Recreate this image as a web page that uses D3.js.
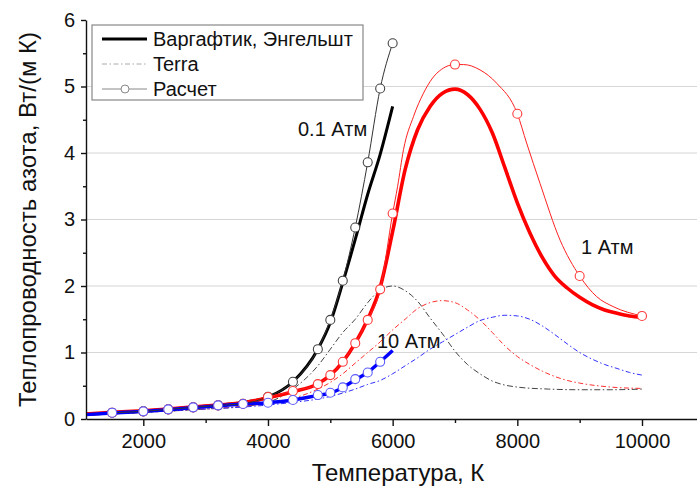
<!DOCTYPE html>
<html>
<head>
<meta charset="utf-8">
<script src="https://cdn.jsdelivr.net/npm/d3@7"></script>
<style>
body{margin:0;background:#fff;}
text{font-family:Arial,"Liberation Sans",sans-serif;fill:#111;}
</style>
</head>
<body>
<svg id="chart" width="697" height="490"></svg>
<script>
// ticks
let xTicks = [2000, 4000, 6000, 8000, 10000];
let xMinor = [3000, 5000, 7000, 9000];
let yTicks = [0, 1, 2, 3, 4, 5, 6];
let yMinor = [0.5, 1.5, 2.5, 3.5, 4.5, 5.5];

// Варгафтик, Энгельшт (thick lines), [T, lambda]
let varg01 = [[1080,0.07],[1500,0.09],[2000,0.12],[2400,0.145],[2800,0.175],[3200,0.21],[3600,0.25],[4000,0.33],[4400,0.56],[4800,1.05],[5000,1.45],[5200,2.05],[5400,2.7],[5600,3.38],[5800,3.98],[6000,4.7]];
let varg1 = [[1080,0.075],[1500,0.1],[2000,0.125],[2400,0.15],[2800,0.18],[3200,0.21],[3600,0.245],[4000,0.32],[4400,0.41],[4800,0.53],[5000,0.66],[5200,0.86],[5400,1.14],[5600,1.5],[5800,1.98],[6000,2.82],[6200,3.75],[6400,4.35],[6600,4.7],[6800,4.9],[7000,4.96],[7200,4.88],[7400,4.66],[7600,4.3],[7800,3.78],[8000,3.25],[8200,2.8],[8400,2.43],[8600,2.15],[8800,1.97],[9000,1.83],[9200,1.72],[9400,1.64],[9600,1.59],[9800,1.55],[10000,1.53]];
let varg10 = [[1080,0.065],[1500,0.09],[2000,0.115],[2400,0.14],[2800,0.17],[3200,0.2],[3600,0.225],[4000,0.245],[4400,0.285],[4800,0.355],[5000,0.39],[5200,0.475],[5400,0.59],[5600,0.7],[5800,0.86],[6000,1.03]];

// Terra (dash-dot)
let terra01 = [[1080,0.06],[2000,0.1],[3000,0.15],[3600,0.19],[4000,0.25],[4400,0.45],[4800,0.8],[5000,1.05],[5200,1.3],[5400,1.5],[5600,1.75],[5800,1.94],[6000,2.0],[6200,1.93],[6400,1.77],[6600,1.52],[6800,1.28],[7000,1.02],[7200,0.82],[7400,0.68],[7600,0.57],[7800,0.51],[8000,0.48],[8500,0.45],[9000,0.44],[9500,0.44],[10000,0.45]];
let terra1 = [[1080,0.06],[2000,0.1],[3000,0.15],[3600,0.19],[4000,0.23],[4400,0.31],[4800,0.45],[5000,0.55],[5200,0.68],[5400,0.84],[5600,1.0],[5800,1.16],[6000,1.34],[6200,1.5],[6400,1.66],[6600,1.75],[6800,1.78],[7000,1.75],[7200,1.64],[7400,1.49],[7600,1.3],[7800,1.1],[8000,0.94],[8200,0.82],[8400,0.72],[8600,0.64],[8800,0.58],[9000,0.54],[9500,0.48],[10000,0.46]];
let terra10 = [[1080,0.055],[2000,0.1],[3000,0.15],[3600,0.18],[4000,0.21],[4400,0.25],[4800,0.3],[5000,0.34],[5200,0.39],[5400,0.45],[5600,0.52],[5800,0.58],[6000,0.68],[6200,0.8],[6400,0.92],[6600,1.05],[6800,1.16],[7000,1.27],[7200,1.38],[7400,1.48],[7600,1.53],[7800,1.56],[8000,1.55],[8200,1.5],[8400,1.4],[8600,1.27],[8800,1.13],[9000,1.0],[9200,0.9],[9400,0.82],[9600,0.76],[9800,0.7],[10000,0.66]];

// Расчет (circles + thin line)
let calc01 = [[1500,0.095],[2000,0.115],[2400,0.145],[2800,0.175],[3200,0.205],[3600,0.23],[4000,0.335],[4400,0.56],[4800,1.05],[5000,1.49],[5200,2.08],[5400,2.88],[5600,3.86],[5800,4.97],[6000,5.65]];
let calc1 = [[1500,0.095],[2000,0.115],[2400,0.145],[2800,0.175],[3200,0.205],[3600,0.23],[4000,0.33],[4400,0.42],[4800,0.525],[5000,0.66],[5200,0.86],[5400,1.14],[5600,1.49],[5800,1.95],[6000,3.09],[7000,5.33],[8000,4.59],[9000,2.15],[10000,1.55]];
let calc1Line = [[4000,0.33],[4400,0.42],[4800,0.525],[5000,0.66],[5200,0.86],[5400,1.14],[5600,1.49],[5800,1.95],[6000,3.09],[6080,3.5],[6174,4.05],[6335,4.55],[6495,4.9],[6709,5.2],[7000,5.33],[7136,5.33],[7401,5.25],[7668,5.05],[8000,4.59],[8149,4.15],[8365,3.54],[8686,2.69],[9000,2.15],[9273,1.84],[9538,1.69],[10000,1.55]];
let calc10 = [[1500,0.095],[2000,0.115],[2400,0.145],[2800,0.175],[3200,0.205],[3600,0.225],[4000,0.245],[4400,0.285],[4800,0.36],[5000,0.395],[5200,0.475],[5400,0.6],[5600,0.7],[5800,0.86]];

let svgWidth = 697, svgHeight = 490;
let plot = {left: 86, right: 697, top: 20, bottom: 419};

let xScale = d3.scaleLinear().domain([2000, 10000]).range([143.3, 642]);
let xLo = xScale.invert(plot.left), xHi = xScale.invert(plot.right);
xScale.domain([xLo, xHi]).range([plot.left, plot.right]);
let yScale = d3.scaleLinear().domain([0, 6]).range([plot.bottom, plot.top]);

let svg = d3.select('#chart');

svg.append('defs').append('clipPath').attr('id', 'clip')
    .append('rect')
    .attr('x', plot.left).attr('y', plot.top - 5)
    .attr('width', plot.right - plot.left).attr('height', plot.bottom - plot.top + 5);

// grid
svg.append('g').selectAll('line')
    .data([1, 2, 3, 4, 5])
    .enter().append('line')
    .attr('x1', plot.left).attr('x2', plot.right)
    .attr('y1', d => yScale(d)).attr('y2', d => yScale(d))
    .attr('stroke', '#d6d6d6').attr('stroke-width', 1.2);

let line = d3.line()
    .x(d => xScale(d[0]))
    .y(d => yScale(d[1]))
    .curve(d3.curveMonotoneX);

let g = svg.append('g').attr('clip-path', 'url(#clip)');

function drawLine(data, color, width, dash) {
    g.append('path')
        .datum(data)
        .attr('d', line)
        .attr('fill', 'none')
        .attr('stroke', color)
        .attr('stroke-width', width)
        .attr('stroke-dasharray', dash || null)
        .attr('stroke-linejoin', 'round');
}

// Terra
drawLine(terra01, '#444', 1, '6,2.5,1.5,2.5');
drawLine(terra1, '#ff3030', 1, '5,2.5,1.5,2.5');
drawLine(terra10, '#3030ff', 1, '5,2.5,1.5,2.5');

// Варгафтик
drawLine(varg01, '#000', 3);
drawLine(varg1, '#ff0000', 3.6);
drawLine(varg10, '#0000ff', 3.4);

// Расчет thin lines
drawLine(calc01, '#333', 1);
drawLine(calc1Line, '#ff2020', 1);

function drawCircles(data, color) {
    g.append('g').selectAll('circle')
        .data(data)
        .enter().append('circle')
        .attr('cx', d => xScale(d[0]))
        .attr('cy', d => yScale(d[1]))
        .attr('r', 4.5)
        .attr('fill', '#fff')
        .attr('stroke', color)
        .attr('stroke-width', 1.1);
}
drawCircles(calc01, '#444');
drawCircles(calc1, '#ff3a3a');
drawCircles(calc10, '#5a5aff');

// pressure labels
let labels = [
    {t: '0.1 Атм', x: 298, y: 136},
    {t: '1 Атм', x: 581, y: 254},
    {t: '10 Атм', x: 377, y: 348}
];
svg.append('g').selectAll('text')
    .data(labels)
    .enter().append('text')
    .attr('x', d => d.x).attr('y', d => d.y)
    .attr('font-size', 20)
    .text(d => d.t);

// axes
svg.append('g').attr('transform', `translate(0,${plot.bottom})`)
    .call(d3.axisBottom(xScale).tickValues(xTicks).tickSize(7).tickSizeOuter(0).tickPadding(8).tickFormat(d3.format('d')));
svg.append('g').attr('transform', `translate(0,${plot.bottom})`)
    .call(d3.axisBottom(xScale).tickValues(xMinor).tickSize(4).tickFormat(''))
    .select('.domain').remove();
svg.append('g').attr('transform', `translate(${plot.left},0)`)
    .call(d3.axisLeft(yScale).tickValues(yTicks).tickSize(5).tickSizeOuter(0).tickPadding(6).tickFormat(d3.format('d')));
svg.append('g').attr('transform', `translate(${plot.left},0)`)
    .call(d3.axisLeft(yScale).tickValues(yMinor).tickSize(3).tickFormat(''))
    .select('.domain').remove();

svg.selectAll('.tick text')
    .attr('font-size', 20)
    .attr('font-family', 'Arial, "Liberation Sans", sans-serif')
    .attr('fill', '#111');
svg.selectAll('.domain, .tick line').attr('stroke', '#111').attr('stroke-width', 1.4);

// titles
svg.append('text')
    .attr('x', 398).attr('y', 481)
    .attr('text-anchor', 'middle')
    .attr('font-size', 24)
    .text('Температура, К');
svg.append('text')
    .attr('transform', `translate(36,${(plot.top + plot.bottom) / 2}) rotate(-90)`)
    .attr('text-anchor', 'middle')
    .attr('font-size', 24)
    .text('Теплопроводность азота, Вт/(м К)');

// legend
let legend = svg.append('g');
legend.append('rect')
    .attr('x', 92).attr('y', 25).attr('width', 271).attr('height', 75)
    .attr('fill', '#fff').attr('stroke', '#888').attr('stroke-width', 1.2);
let legendItems = [
    {name: 'Варгафтик, Энгельшт', color: '#000', width: 3, dash: null, circle: false},
    {name: 'Terra', color: '#aaa', width: 1, dash: '5,2.5,1.5,2.5', circle: false},
    {name: 'Расчет', color: '#888', width: 1, dash: null, circle: true}
];
let rows = legend.selectAll('g.item')
    .data(legendItems)
    .enter().append('g')
    .attr('class', 'item')
    .attr('transform', (d, i) => `translate(0,${39 + i * 25})`);
rows.append('line')
    .attr('x1', 102).attr('x2', 147)
    .attr('stroke', d => d.color)
    .attr('stroke-width', d => d.width)
    .attr('stroke-dasharray', d => d.dash);
rows.filter(d => d.circle).append('circle')
    .attr('cx', 125).attr('r', 4)
    .attr('fill', '#fff').attr('stroke', '#888');
rows.append('text')
    .attr('x', 153).attr('y', 7)
    .attr('font-size', 20)
    .text(d => d.name);
</script>
</body>
</html>
